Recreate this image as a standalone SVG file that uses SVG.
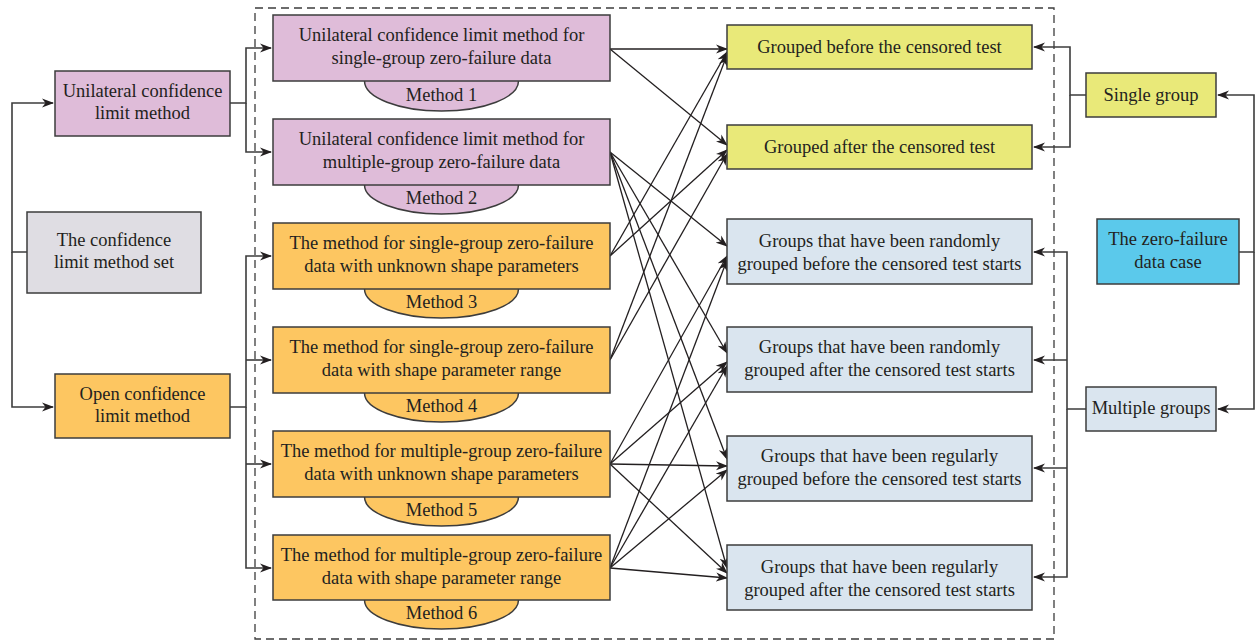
<svg xmlns="http://www.w3.org/2000/svg" width="1256" height="643" viewBox="0 0 1256 643" font-family="'Liberation Serif', 'DejaVu Serif', serif">
<defs>
<marker id="ah" markerWidth="12" markerHeight="10" refX="11" refY="5" orient="auto" markerUnits="userSpaceOnUse">
<path d="M0,0.5 L12,5 L0,9.5 L3.5,5 Z" fill="#231f20"/>
</marker>
<style>
.box{stroke:#3c3c3c;stroke-width:1.5}
.pur{fill:#dfbcd9}
.ora{fill:#fdc661}
.yel{fill:#e9e979}
.blu{fill:#dae5ef}
.cya{fill:#5bc9eb}
.gry{fill:#dfdde3}
.t{font-family:'Liberation Serif', 'DejaVu Serif', serif;font-size:18.5px;fill:#231f20;text-anchor:middle}
.ln{fill:none;stroke:#231f20;stroke-width:1.3}
.br{fill:none;stroke:#3c3c3c;stroke-width:1.6}
</style>
</defs>
<rect x="255" y="8" width="799" height="631" fill="none" stroke="#3c3c3c" stroke-width="1.3" stroke-dasharray="8,5"/>

<g id="connectors">
<path class="br" d="M27,252 H12 V103 H53" marker-end="url(#ah)"/>
<path class="br" d="M12,252 V407 H53" marker-end="url(#ah)"/>
<path class="br" d="M230,103 H246 V48 H271" marker-end="url(#ah)"/>
<path class="br" d="M246,103 V152 H271" marker-end="url(#ah)"/>
<path class="br" d="M230,407 H246 V256 H271" marker-end="url(#ah)"/>
<path class="br" d="M246,360 H271" marker-end="url(#ah)"/>
<path class="br" d="M246,407 V568 H271" marker-end="url(#ah)"/>
<path class="br" d="M246,464 H271" marker-end="url(#ah)"/>
<path class="br" d="M1086,95 H1070 V47 H1034" marker-end="url(#ah)"/>
<path class="br" d="M1070,95 V147 H1034" marker-end="url(#ah)"/>
<path class="br" d="M1239,252 H1254 V95 H1218" marker-end="url(#ah)"/>
<path class="br" d="M1254,252 V409 H1218" marker-end="url(#ah)"/>
<path class="br" d="M1086,409 H1067 V252 H1034" marker-end="url(#ah)"/>
<path class="br" d="M1067,360 H1034" marker-end="url(#ah)"/>
<path class="br" d="M1067,409 V577 H1034" marker-end="url(#ah)"/>
<path class="br" d="M1067,468 H1034" marker-end="url(#ah)"/>
<path class="ln" d="M610,49 L727,49" marker-end="url(#ah)"/>
<path class="ln" d="M610,49 L727,145" marker-end="url(#ah)"/>
<path class="ln" d="M610,256 L727,52" marker-end="url(#ah)"/>
<path class="ln" d="M610,360 L727,55" marker-end="url(#ah)"/>
<path class="ln" d="M610,256 L727,150" marker-end="url(#ah)"/>
<path class="ln" d="M610,360 L727,154" marker-end="url(#ah)"/>
<path class="ln" d="M610,152 L727,246" marker-end="url(#ah)"/>
<path class="ln" d="M610,152 L727,353" marker-end="url(#ah)"/>
<path class="ln" d="M610,152 L727,459" marker-end="url(#ah)"/>
<path class="ln" d="M610,152 L727,568" marker-end="url(#ah)"/>
<path class="ln" d="M610,464 L727,256" marker-end="url(#ah)"/>
<path class="ln" d="M610,464 L727,362" marker-end="url(#ah)"/>
<path class="ln" d="M610,464 L727,466" marker-end="url(#ah)"/>
<path class="ln" d="M610,464 L727,573" marker-end="url(#ah)"/>
<path class="ln" d="M610,568 L727,260" marker-end="url(#ah)"/>
<path class="ln" d="M610,568 L727,366" marker-end="url(#ah)"/>
<path class="ln" d="M610,568 L727,470" marker-end="url(#ah)"/>
<path class="ln" d="M610,568 L727,578" marker-end="url(#ah)"/>
</g>

<g id="n-set"><rect class="box gry" x="27" y="212" width="174" height="81"/><text class="t" x="114" y="246">The confidence</text><text class="t" x="114" y="268">limit method set</text></g>
<g id="n-uni"><rect class="box pur" x="55" y="71" width="175" height="65"/><text class="t" x="142.5" y="97">Unilateral confidence</text><text class="t" x="142.5" y="119">limit method</text></g>
<g id="n-open"><rect class="box ora" x="55" y="374" width="175" height="64"/><text class="t" x="142.5" y="400">Open confidence</text><text class="t" x="142.5" y="422">limit method</text></g>

<g id="m1"><ellipse class="box pur" cx="441.5" cy="81" rx="77" ry="30"/><rect class="box pur" x="273" y="15" width="337" height="66"/><text class="t" x="441.5" y="41">Unilateral confidence limit method for</text><text class="t" x="441.5" y="64">single-group zero-failure data</text><text class="t" x="441.5" y="101">Method 1</text></g>
<g id="m2"><ellipse class="box pur" cx="441.5" cy="185" rx="77" ry="29"/><rect class="box pur" x="273" y="119" width="337" height="66"/><text class="t" x="441.5" y="145">Unilateral confidence limit method for</text><text class="t" x="441.5" y="168">multiple-group zero-failure data</text><text class="t" x="441.5" y="204">Method 2</text></g>
<g id="m3"><ellipse class="box ora" cx="441.5" cy="289" rx="77" ry="29"/><rect class="box ora" x="273" y="223" width="337" height="66"/><text class="t" x="441.5" y="249">The method for single-group zero-failure</text><text class="t" x="441.5" y="272">data with unknown shape parameters</text><text class="t" x="441.5" y="308">Method 3</text></g>
<g id="m4"><ellipse class="box ora" cx="441.5" cy="393" rx="77" ry="29"/><rect class="box ora" x="273" y="327" width="337" height="66"/><text class="t" x="441.5" y="353">The method for single-group zero-failure</text><text class="t" x="441.5" y="376">data with shape parameter range</text><text class="t" x="441.5" y="412">Method 4</text></g>
<g id="m5"><ellipse class="box ora" cx="441.5" cy="497" rx="77" ry="29"/><rect class="box ora" x="273" y="431" width="337" height="66"/><text class="t" x="441.5" y="457">The method for multiple-group zero-failure</text><text class="t" x="441.5" y="480">data with unknown shape parameters</text><text class="t" x="441.5" y="516">Method 5</text></g>
<g id="m6"><ellipse class="box ora" cx="441.5" cy="600" rx="77" ry="29"/><rect class="box ora" x="273" y="535" width="337" height="65"/><text class="t" x="441.5" y="561">The method for multiple-group zero-failure</text><text class="t" x="441.5" y="584">data with shape parameter range</text><text class="t" x="441.5" y="619">Method 6</text></g>

<g id="o-gb"><rect class="box yel" x="727" y="25" width="305" height="44"/><text class="t" x="879.5" y="53">Grouped before the censored test</text></g>
<g id="o-ga"><rect class="box yel" x="727" y="125" width="305" height="44"/><text class="t" x="879.5" y="153">Grouped after the censored test</text></g>
<g id="o-rb"><rect class="box blu" x="727" y="219" width="305" height="65"/><text class="t" x="879.5" y="247">Groups that have been randomly</text><text class="t" x="879.5" y="270">grouped before the censored test starts</text></g>
<g id="o-ra"><rect class="box blu" x="727" y="327" width="305" height="65"/><text class="t" x="879.5" y="353">Groups that have been randomly</text><text class="t" x="879.5" y="376">grouped after the censored test starts</text></g>
<g id="o-regb"><rect class="box blu" x="727" y="436" width="305" height="65"/><text class="t" x="879.5" y="462">Groups that have been regularly</text><text class="t" x="879.5" y="485">grouped before the censored test starts</text></g>
<g id="o-rega"><rect class="box blu" x="727" y="545" width="305" height="65"/><text class="t" x="879.5" y="573">Groups that have been regularly</text><text class="t" x="879.5" y="596">grouped after the censored test starts</text></g>

<g id="r-single"><rect class="box yel" x="1086" y="73" width="130" height="44"/><text class="t" x="1151" y="101">Single group</text></g>
<g id="r-zero"><rect class="box cya" x="1097" y="219" width="142" height="65"/><text class="t" x="1168" y="245">The zero-failure</text><text class="t" x="1168" y="268">data case</text></g>
<g id="r-multi"><rect class="box blu" x="1086" y="387" width="130" height="44"/><text class="t" x="1151" y="414">Multiple groups</text></g>
</svg>
